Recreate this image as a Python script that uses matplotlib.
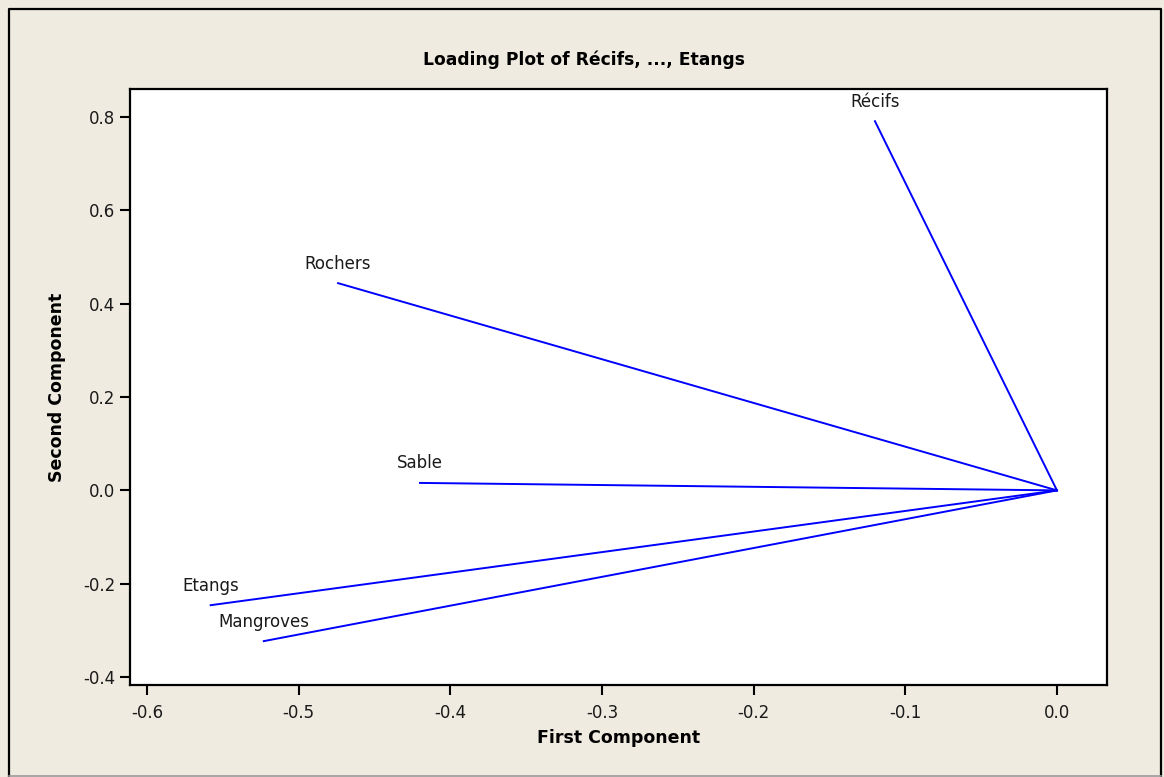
import matplotlib
matplotlib.use("Agg")

import matplotlib.pyplot as plt
from matplotlib.lines import Line2D

# --- Loadings (first, second component) ---
variables = ["Récifs", "Rochers", "Sable", "Etangs", "Mangroves"]
first_comp = [-0.120, -0.474, -0.420, -0.558, -0.523]
second_comp = [0.791, 0.444, 0.016, -0.246, -0.323]

xticks = [-0.6, -0.5, -0.4, -0.3, -0.2, -0.1, 0.0]
yticks = [-0.4, -0.2, 0.0, 0.2, 0.4, 0.6, 0.8]

bg = "#efebe0"
W, H = 1164, 777
plt.rcParams['font.family'] = ['DejaVu Sans']

fig = plt.figure(figsize=(W/100, H/100), dpi=100, facecolor=bg)
ax = fig.add_axes([130/W, 1 - 685/H, 977/W, 596/H])
ax.set_facecolor("white")

# --- Borde de la figura (abajo gris) ---
def fig_line(xs, ys, color, lw):
    fig.lines.append(Line2D([x/W for x in xs], [1 - y/H for y in ys],
                            transform=fig.transFigure, color=color, lw=lw))

fig_line([8.5, 8.5, 1161, 1161], [776, 8.5, 8.5, 776], "black", 1.6)
fig_line([8.5, 1161], [776, 776], "#9a9a9a", 1.2)

for x, y in zip(first_comp, second_comp):
    ax.plot([0, x], [0, y], color="#0000ff", lw=1.4)

for name, x, y in zip(variables, first_comp, second_comp):
    ax.annotate(name, (x, y), xytext=(0, 14), textcoords="offset points",
                ha="center", va="center", fontsize=12, color="#1a1a1a")

ax.set_xlim(-0.6112, 0.033)
ax.set_ylim(-0.417, 0.86)
ax.set_xticks(xticks)
ax.set_yticks(yticks)
ax.set_xticklabels([f"{v:.1f}" for v in xticks])
ax.set_yticklabels([f"{v:.1f}" for v in yticks])
ax.tick_params(direction="out", length=7.5, width=1.5, labelsize=12,
               colors="black", labelcolor="#1a1a1a")
ax.tick_params(axis="x", pad=6)
ax.tick_params(axis="y", pad=3)
for s in ax.spines.values():
    s.set_linewidth(1.6)

ax.set_xlabel("First Component", fontsize=12.5, fontweight="bold", labelpad=5)
ax.set_ylabel("Second Component", fontsize=12.5, fontweight="bold", labelpad=12)
fig.text(584/W, 1 - 60/H, "Loading Plot of Récifs, ..., Etangs",
         fontsize=12.3, fontweight="bold", ha="center", va="center")

fig.savefig("out.png", dpi=100, facecolor=bg)
